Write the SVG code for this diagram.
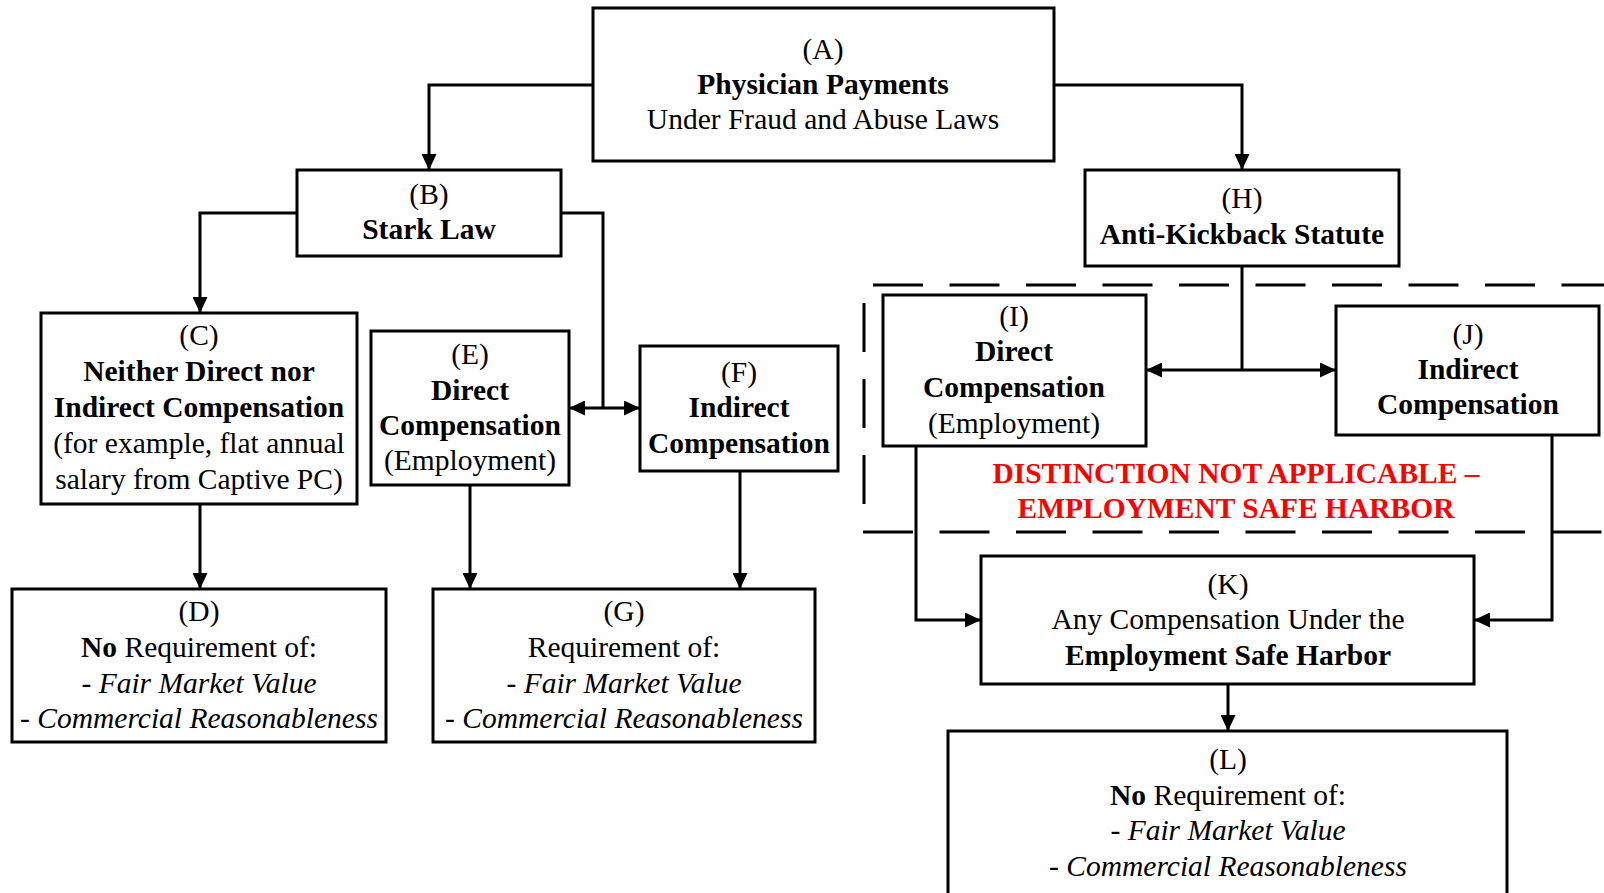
<svg xmlns="http://www.w3.org/2000/svg" width="1604" height="893" viewBox="0 0 1604 893">
  <style>
    .box { fill: #ffffff; stroke: #000000; stroke-width: 3; }
    .wire { fill: none; stroke: #000000; stroke-width: 3; }
    .dash { fill: none; stroke: #000000; stroke-width: 3; stroke-dasharray: 50 26.5; }
    text { font-family: "Liberation Serif", "Times New Roman", serif; font-size: 29.5px; fill: #000000; text-anchor: middle; }
    .b { font-weight: bold; }
    .i { font-style: italic; }
    .red { fill: #ff0000; font-weight: bold; }
  </style>
  <defs>
    <marker id="arrow" markerUnits="userSpaceOnUse" markerWidth="17" markerHeight="15" refX="16" refY="7.5" orient="auto-start-reverse">
      <path d="M0,0 L16,7.5 L0,15 Z" fill="#000000"/>
    </marker>
  </defs>

  <rect width="1604" height="893" fill="#ffffff"/>

  <!-- dashed region around the Anti-Kickback branches -->
  <g id="employment-zone">
    <line class="dash" x1="873" y1="285" x2="1604" y2="285"/>
    <line class="dash" x1="864" y1="303" x2="864" y2="506" style="stroke-dasharray: 49 27"/>
    <line class="dash" x1="863" y1="532" x2="1604" y2="532"/>
    <text class="red" x="1236" y="483">DISTINCTION NOT APPLICABLE –</text>
    <text class="red" x="1236" y="518">EMPLOYMENT SAFE HARBOR</text>
  </g>

  <!-- connectors -->
  <g id="connectors">
    <path class="wire" d="M593,85 H429 V170" marker-end="url(#arrow)"/>
    <path class="wire" d="M1054,85 H1242 V170" marker-end="url(#arrow)"/>
    <path class="wire" d="M297,213 H200 V313" marker-end="url(#arrow)"/>
    <path class="wire" d="M561,213 H603 V408"/>
    <line class="wire" x1="569" y1="408" x2="640" y2="408" marker-start="url(#arrow)" marker-end="url(#arrow)"/>
    <line class="wire" x1="200" y1="504" x2="200" y2="589" marker-end="url(#arrow)"/>
    <line class="wire" x1="470" y1="485" x2="470" y2="589" marker-end="url(#arrow)"/>
    <line class="wire" x1="740" y1="471" x2="740" y2="589" marker-end="url(#arrow)"/>
    <path class="wire" d="M1242,266 V370"/>
    <line class="wire" x1="1146" y1="370" x2="1336" y2="370" marker-start="url(#arrow)" marker-end="url(#arrow)"/>
    <path class="wire" d="M916,446 V620 H981" marker-end="url(#arrow)"/>
    <path class="wire" d="M1552,435 V620 H1474" marker-end="url(#arrow)"/>
    <line class="wire" x1="1228" y1="684" x2="1228" y2="731" marker-end="url(#arrow)"/>
  </g>

  <g id="node-A">
    <rect class="box" x="593" y="8" width="461" height="153"/>
    <text x="823" y="59">(A)</text>
    <text x="823" y="94" class="b">Physician Payments</text>
    <text x="823" y="129">Under Fraud and Abuse Laws</text>
  </g>

  <g id="node-B">
    <rect class="box" x="297" y="170" width="264" height="86"/>
    <text x="429" y="204">(B)</text>
    <text x="429" y="239" class="b">Stark Law</text>
  </g>

  <g id="node-H">
    <rect class="box" x="1085" y="170" width="314" height="96"/>
    <text x="1242" y="208">(H)</text>
    <text x="1242" y="244" class="b">Anti-Kickback Statute</text>
  </g>

  <g id="node-C">
    <rect class="box" x="41" y="313" width="316" height="191"/>
    <text x="199" y="345">(C)</text>
    <text x="199" y="381" class="b">Neither Direct nor</text>
    <text x="199" y="417" class="b">Indirect Compensation</text>
    <text x="199" y="453">(for example, flat annual</text>
    <text x="199" y="489">salary from Captive PC)</text>
  </g>

  <g id="node-E">
    <rect class="box" x="371" y="331" width="198" height="154"/>
    <text x="470" y="364">(E)</text>
    <text x="470" y="400" class="b">Direct</text>
    <text x="470" y="435" class="b">Compensation</text>
    <text x="470" y="470">(Employment)</text>
  </g>

  <g id="node-F">
    <rect class="box" x="640" y="346" width="198" height="125"/>
    <text x="739" y="382">(F)</text>
    <text x="739" y="417" class="b">Indirect</text>
    <text x="739" y="453" class="b">Compensation</text>
  </g>

  <g id="node-I">
    <rect class="box" x="883" y="295" width="263" height="151"/>
    <text x="1014" y="326">(I)</text>
    <text x="1014" y="361" class="b">Direct</text>
    <text x="1014" y="397" class="b">Compensation</text>
    <text x="1014" y="433">(Employment)</text>
  </g>

  <g id="node-J">
    <rect class="box" x="1336" y="306" width="263" height="129"/>
    <text x="1468" y="344">(J)</text>
    <text x="1468" y="379" class="b">Indirect</text>
    <text x="1468" y="414" class="b">Compensation</text>
  </g>

  <g id="node-D">
    <rect class="box" x="12" y="589" width="374" height="153"/>
    <text x="199" y="621">(D)</text>
    <text x="199" y="657"><tspan class="b">No</tspan> Requirement of:</text>
    <text x="199" y="693">- <tspan class="i">Fair Market Value</tspan></text>
    <text x="199" y="728">- <tspan class="i">Commercial Reasonableness</tspan></text>
  </g>

  <g id="node-G">
    <rect class="box" x="433" y="589" width="382" height="153"/>
    <text x="624" y="621">(G)</text>
    <text x="624" y="657">Requirement of:</text>
    <text x="624" y="693">- <tspan class="i">Fair Market Value</tspan></text>
    <text x="624" y="728">- <tspan class="i">Commercial Reasonableness</tspan></text>
  </g>

  <g id="node-K">
    <rect class="box" x="981" y="556" width="493" height="128"/>
    <text x="1228" y="594">(K)</text>
    <text x="1228" y="629">Any Compensation Under the</text>
    <text x="1228" y="665" class="b">Employment Safe Harbor</text>
  </g>

  <g id="node-L">
    <rect class="box" x="948" y="731" width="559" height="175"/>
    <text x="1228" y="769">(L)</text>
    <text x="1228" y="805"><tspan class="b">No</tspan> Requirement of:</text>
    <text x="1228" y="840">- <tspan class="i">Fair Market Value</tspan></text>
    <text x="1228" y="876">- <tspan class="i">Commercial Reasonableness</tspan></text>
  </g>
</svg>
